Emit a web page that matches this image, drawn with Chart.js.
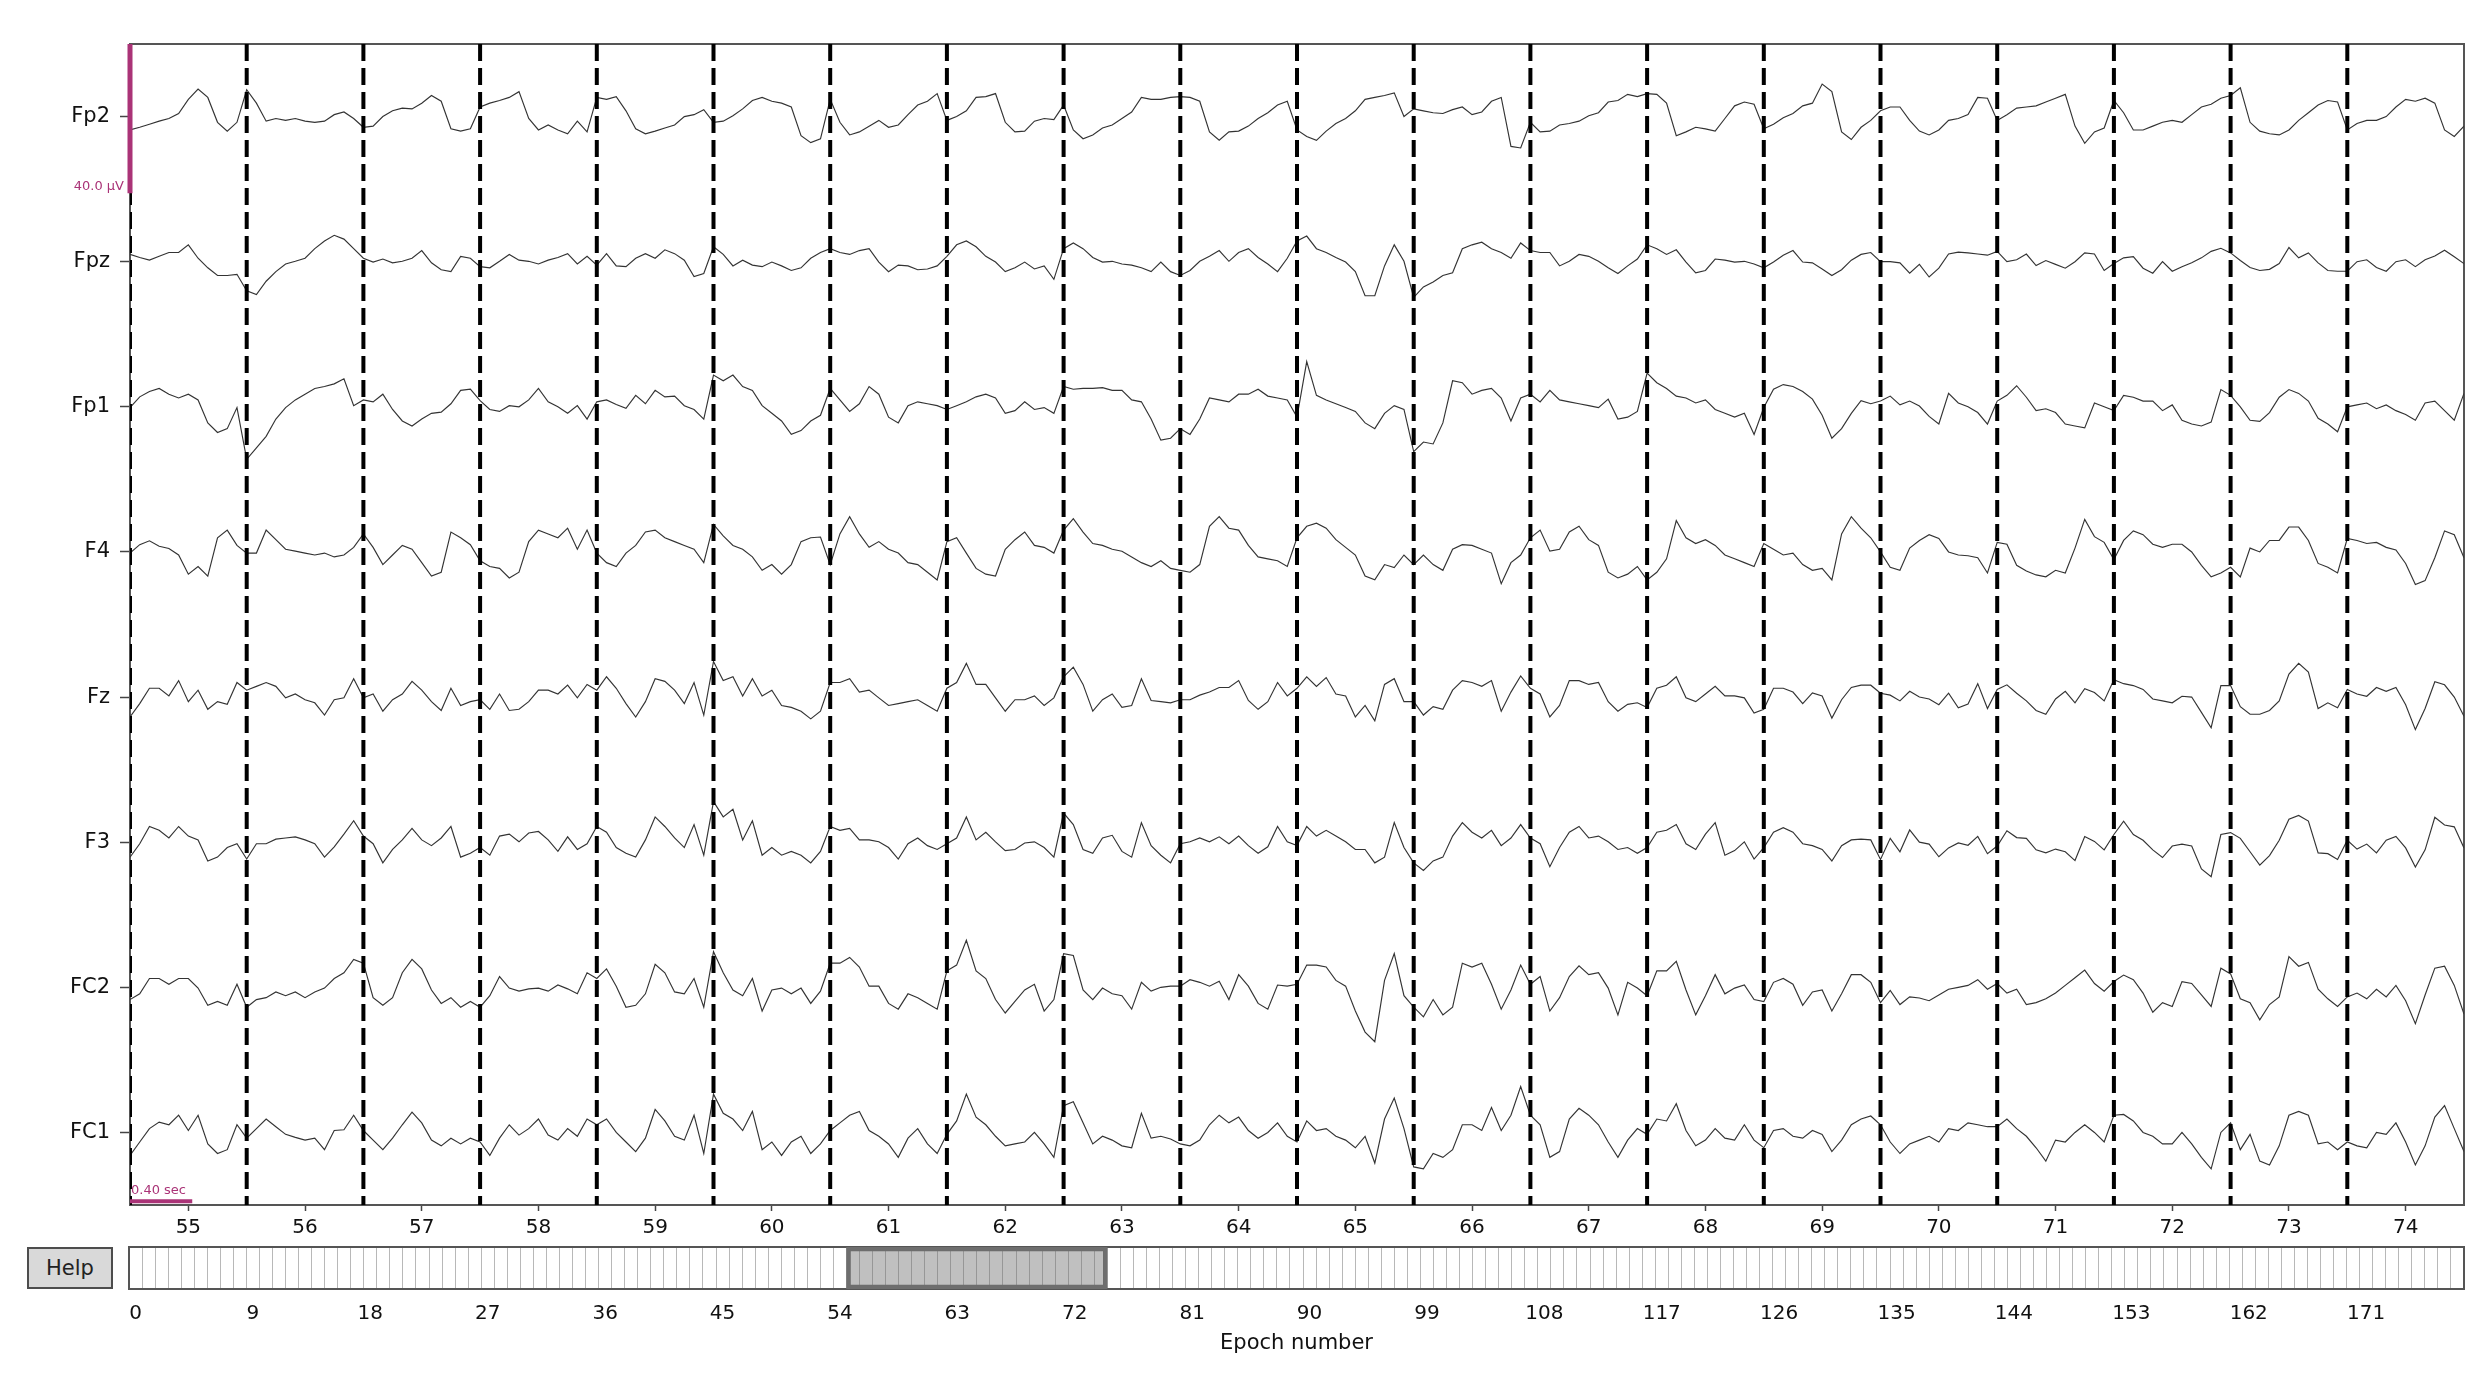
<!DOCTYPE html>
<html>
<head>
<meta charset="utf-8">
<title>Epochs</title>
<script src="https://cdn.jsdelivr.net/npm/chart.js@4.4.1/dist/chart.umd.min.js"></script>
<style>
  html, body { margin: 0; padding: 0; background: #fff; }
  body { width: 2491px; height: 1384px; position: relative; overflow: hidden; font-family: 'DejaVu Sans', sans-serif; }
  #main { position: absolute; left: 0; top: 0; width: 2491px; height: 1250px; }
  #scroll { position: absolute; left: 0; top: 1230px; width: 2491px; height: 154px; }
  #help { position: absolute; left: 27px; top: 1247px; width: 86px; height: 42px; box-sizing: border-box;
          background: #d9d9d9; border: 2px solid #4d4d4d; font-size: 21px; color: #222;
          display: flex; align-items: center; justify-content: center; }
</style>
</head>
<body>
<canvas id="main" width="2491" height="1250"></canvas>
<canvas id="scroll" width="2491" height="154"></canvas>
<div id="help">Help</div>
<script>
// channels, top to bottom
const channelNames = ['Fp2', 'Fpz', 'Fp1', 'F4', 'Fz', 'F3', 'FC2', 'FC1'];
// epochs shown in the window
const epochLabels = ['55', '56', '57', '58', '59', '60', '61', '62', '63', '64',
                     '65', '66', '67', '68', '69', '70', '71', '72', '73', '74'];
// scrollbar
const nEpochs = 179;
const scrollTicks = [0, 9, 18, 27, 36, 45, 54, 63, 72, 81, 90, 99, 108, 117, 126, 135, 144, 153, 162, 171];
const windowFirst = 55;
const windowLast = 74;

const samplesPerEpoch = 12;
const channelSpacing = 37.9; // µV between channel baselines
const scaleBarUv = 40;
const scaleBarSec = 0.4;
const epochSec = 0.75;

// traces in µV, 12 samples per epoch (+ last sample)
const fp2 = [
  -3.5, -2.8, -2, -1.2, -0.5, 0.8, 4.5, 7.2, 5, -1.5, -3.8, -1.5,
  7, 3.5, -1.2, -0.5, -1, -0.5, -1.2, -1.5, -1.2, 0.5, 1.2, -0.5,
  -2.8, -2.5, 0, 1.5, 2.2, 2, 3.5, 5.5, 4, -3.2, -3.8, -3.2,
  2.5, 3.5, 4.2, 5, 6.5, -0.5, -3.5, -2.2, -3.5, -4.5, -1.2, -4,
  5, 4.5, 5.2, 1.5, -3.2, -4.5, -3.8, -3, -2.2, 0, 0.5, 1.8,
  -1.5, -1.2, 0.2, 2, 4.2, 5, 4, 3.5, 2.5, -5, -6.8, -5.8,
  4.5, -1.5, -4.8, -4, -2.5, -1, -2.8, -2.2, 0.5, 3, 4, 6,
  -1, 0, 1.5, 5, 5.2, 6, -1.5, -4, -3.8, -1.2, -0.5, -0.8,
  3, -3.5, -5.8, -4.8, -3, -2.2, -0.5, 1.2, 5, 4.5, 4.5, 5,
  5.2, 5, 4, -4, -6.2, -4, -3.8, -2.5, -0.5, 1, 3, 4,
  -3.5, -5.2, -6.2, -3.8, -1.8, -0.5, 1.5, 4.5, 5, 5.5, 6.2, 0,
  2, 1.5, 1, 0.8, 1.8, 2.5, 0.5, 1.2, 4, 5, -7.8, -8.2,
  -1.5, -4, -3.8, -2.2, -1.8, -1.2, 0.2, 1, 3.8, 4.2, 5.8, 5.2,
  6, 5.8, 3.5, -5, -4, -2.8, -3.2, -3.8, -0.5, 2.8, 3.8, 3.2,
  -3.2, -2, -0.3, 0.8, 2.8, 3.5, 8.5, 6.5, -4, -6, -2.8, -1,
  1.5, 2.5, 2.5, -1, -3.8, -4.8, -3.5, -1, -0.5, 0.5, 5, 4.8,
  -1, 0.5, 2.2, 2.5, 2.8, 3.8, 4.8, 5.8, -2.5, -7, -4, -3,
  4.2, 1, -3.5, -3.5, -2.5, -1.5, -1, -1.5, 0.5, 2.5, 3.2, 4.8,
  5.5, 7.5, -1.5, -3.8, -4.5, -4.8, -3.5, -1, 1, 3, 4.2, 3.8,
  -3.5, -1.8, -1, -1, 0, 2.5, 4.5, 4, 4.8, 3.5, -3.5, -5.2,
  -2.5
];
const fpz = [
  1.9, 1.1, 0.4, 1.4, 2.4, 2.4, 4.4, 0.9, -1.6, -3.6, -3.6, -3.3,
  -7.6, -8.6, -5.1, -2.6, -0.6, 0.1, 0.9, 3.4, 5.4, 6.9, 5.9, 3.4,
  0.9, -0.1, 0.7, -0.3, 0.1, 0.9, 2.9, -0.3, -2.1, -2.6, 1.4, 0.9,
  -1.3, -1.6, 0.1, 1.9, 0.4, 0.1, -0.6, 0.4, 1.1, 2.1, -0.6, 1.4,
  -0.9, 2.1, -1.1, -1.3, 0.9, 2.1, 0.9, 3.1, 2.1, 0.4, -3.9, -3.1,
  3.9, 1.9, -1.1, 0.4, -0.9, -1.3, -0.1, -1.1, -2.3, -1.6, 0.9, 2.4,
  3.4, 2.4, 1.9, 2.9, 3.4, -0.1, -2.6, -0.9, -1.1, -2.1, -1.9, -1.1,
  1.4, 4.4, 5.4, 3.9, 1.4, -0.1, -2.6, -1.6, -0.1, -1.9, -1.1, -4.6,
  3.4, 4.9, 3.4, 1.1, -0.1, 0.1, -0.6, -0.9, -1.6, -2.6, -0.1, -2.6,
  -3.6, -2.3, 0.1, 1.4, 2.9, 0.1, 2.4, 3.4, 1.1, -0.6, -2.6, 0.9,
  5.4, 6.7, 3.4, 2.4, 1.1, -0.1, -2.6, -8.9, -8.9, -1.1, 4.4, 0.1,
  -9.3, -6.6, -5.3, -3.6, -2.9, 3.4, 4.4, 5.1, 3.4, 2.4, 0.9, 4.9,
  2.9, 2.4, 2.4, -1.1, 0.1, 1.9, 1.4, 0.1, -1.6, -3.1, -1.1, 0.7,
  4.4, 3.4, 1.9, 3.1, -0.1, -2.9, -2.3, 0.7, 0.4, -0.1, 0.1, -0.6,
  -1.6, -0.1, 1.7, 2.9, -0.1, -0.3, -1.9, -3.6, -2.1, 0.4, 1.9, 2.4,
  0, 0, -0.3, -3, -0.7, -4, -1.7, 2, 2.5, 2.3, 2, 1.7,
  2.7, 0, 0.5, 2, -1, 0.3, -0.7, -1.7, 0, 2.3, 2, -2.3,
  -0.5, 1, 1.3, -1.7, -3, 0, -2.5, -1.3, -0.3, 1, 2.7, 3.5,
  2.3, 0.3, -1.5, -2.3, -2, -0.5, 3.7, 1, 2.3, -0.3, -2.3, -2.5,
  -2.5, 0, 0.5, -1.5, -2.5, 0, 0.5, -1.3, 0.5, 1.5, 3, 1.3,
  -0.5
];
const fp1 = [
  -0.2, 2.6, 4, 4.8, 3.3, 2.3, 3.3, 1.8, -4.2, -6.7, -5.7, -0.2,
  -13.7, -10.7, -7.7, -3.2, -0.2, 1.8, 3.3, 4.8, 5.3, 6, 7.3, 0.3,
  1.8, 1.3, 3.3, -0.7, -3.7, -5, -3.2, -1.7, -1.4, 0.8, 4.3, 4.6,
  1.6, -0.7, -1.2, 0.3, 0, 1.8, 4.8, 1.3, 0, -1.7, 0.3, -3.2,
  1.3, 1.8, 0.6, -0.4, 3, 0.8, 4.3, 2.6, 2.8, 0.3, -0.7, -3.2,
  8.3, 6.8, 8.3, 5.3, 4.3, 0.3, -1.7, -3.7, -7.2, -6.2, -3.7, -2.2,
  4.8, 1.8, -1.2, 0.8, 5.3, 3.3, -2.7, -4.2, 0.3, 1.3, 0.8, 0.3,
  -0.7, 0.3, 1.3, 2.6, 3.3, 2.3, -1.7, -1, 1.3, -0.7, -0.2, -1.7,
  5.3, 4.6, 4.8, 4.8, 5, 4.3, 4.3, 1.8, 1.3, -3.2, -8.7, -8.2,
  -5.7, -7.2, -3.2, 2.3, 1.8, 1.3, 3.3, 3.3, 4.6, 2.8, 2.3, 1.8,
  -2.7, 11.8, 3, 1.8, 0.8, -0.2, -1.2, -4.2, -5.7, -1.7, 0.3, -0.7,
  -11.7, -9.2, -9.7, -4.2, 6.8, 6.3, 3.3, 4.3, 4.8, 2.3, -3.7, 2.3,
  3.3, 1.3, 4.3, 1.8, 1.3, 0.8, 0.3, -0.2, 2, -3.2, -2.7, -1.2,
  8.8, 6.3, 4.8, 2.8, 2.3, 1, 1.8, -0.7, -1.7, -2.7, -1.7, -7.2,
  -0.2, 4.6, 5.8, 5.3, 4, 2, -2.2, -8.2, -5.7, -1.7, 1.6, 0.8,
  1.5, 2.8, 0.5, 1.5, 0.2, -2.5, -4.5, 3.5, 1, 0, -1.5, -4.5,
  1.5, 3, 5.5, 2.5, -1, -0.5, -1.5, -4.5, -5, -5.5, 1, 0,
  -1, 3, 2.5, 1.5, 1.5, -1, 0.5, -3.5, -4.5, -5, -4, 4.5,
  3, 0, -3.5, -3.8, -1.5, 2.5, 4.5, 3.5, 1.5, -3, -4.5, -6.5,
  0, 0.5, 1, -0.5, 0.5, -1, -2, -3.5, 1, 1.5, -1, -3.5,
  3.5
];
const f4 = [
  -0.3, 1.9, 2.9, 1.5, 0.9, -0.8, -5.8, -3.8, -6.3, 3.7, 5.7, 1.7,
  -0.3, -0.3, 5.7, 3.2, 0.7, 0.2, -0.3, -0.8, -0.3, -1.3, -0.8, 1.2,
  4.7, 1.2, -3.3, -0.8, 1.7, 0.7, -2.8, -6.3, -5.3, 5.2, 3.7, 1.9,
  -2.3, -3.8, -4.3, -6.8, -5.3, 2.7, 5.7, 4.7, 3.7, 6.2, 0.7, 5.7,
  -0.3, -2.8, -3.8, -0.3, 1.7, 5.2, 5.7, 3.7, 2.7, 1.7, 0.7, -2.8,
  7.2, 4.2, 1.7, 0.7, -1.3, -4.8, -3.3, -5.8, -3.3, 2.7, 3.7, 3.9,
  -3.3, 4.7, 9.2, 4.7, 1.2, 2.7, 0.7, -0.3, -2.8, -3.3, -5.3, -7.3,
  2.7, 3.7, -0.3, -4.3, -5.8, -6.3, 0.7, 3.2, 5.2, 1.7, 1.2, -0.3,
  5.7, 8.7, 5.2, 2.2, 1.7, 0.7, 0.2, -1.3, -2.8, -3.8, -2.3, -4.3,
  -4.8, -5.3, -3.3, 6.7, 9.2, 6.2, 5.7, 1.7, -1.3, -1.8, -2.3, -3.8,
  3.7, 6.7, 7.5, 6.2, 3.2, 1.2, -0.8, -6.3, -7.3, -3.3, -4.1, -0.8,
  -3.3, -0.8, -3.3, -4.8, 0.7, 1.9, 1.7, 0.7, -0.3, -8.3, -2.8, -0.8,
  3.7, 5.7, 0.2, 0.7, 5.2, 6.7, 3.2, 1.7, -5.3, -6.8, -5.8, -3.8,
  -7.3, -5.3, -1.8, 8.2, 3.7, 2.2, 3.2, 1.7, -0.8, -1.8, -2.8, -3.8,
  2.2, 0.7, -0.8, -0.3, -3.3, -4.8, -4.3, -7.3, 4.7, 9.2, 6.2, 3.7,
  0, -4, -4.8, 1, 3, 4.5, 3.5, 0, -0.8, -1, -1.5, -5.5,
  2.5, 2, -3.5, -5, -6, -6.5, -4.8, -5.5, 1, 8.5, 4, 2.5,
  -2, 3, 5.5, 4.5, 2, 1.2, 2, 2, 0, -3.5, -6.5, -5.5,
  -4, -6.5, 1, 0, 3, 3, 6.5, 6.5, 3, -3, -4, -5.5,
  3.5, 3, 2.2, 2.5, 1.2, 0.5, -3, -8.5, -7.5, -1.5, 5.5, 4.5,
  -1.5
];
const fz = [
  -5.2, -1.7, 2.3, 2.3, 0.3, 4.3, -1.2, 1.8, -3.2, -1.2, -1.9, 3.8,
  1.8, 2.8, 3.8, 2.8, -0.2, 0.8, -0.7, -1.5, -4.7, -0.7, -0.2, 4.8,
  -0.2, 0.8, -3.7, -0.7, 0.8, 4.1, 1.8, -1.2, -3.5, 2.3, -2.2, -1.2,
  -0.7, -3.2, 0.8, -3.5, -3.2, -1.2, 1.8, 1.8, 0.8, 3.1, -0.2, 3.3,
  1.8, 5.3, 2.3, -1.7, -5.2, -1.2, 4.8, 4.1, 1.8, -1.7, 3.8, -4.7,
  9.3, 4.3, 5.3, 0.3, 4.8, 0.3, 1.8, -2.2, -2.7, -3.7, -5.7, -3.7,
  3.8, 3.8, 4.8, 1.3, 1.8, -0.2, -2.2, -1.7, -1.2, -0.7, -2.2, -3.7,
  2.3, 3.8, 8.8, 3.3, 3.3, -0.2, -3.7, -0.7, -0.7, 0.3, -2.2, -0.2,
  5.3, 7.8, 3.3, -3.7, -0.7, 0.8, -2.7, -2.2, 4.8, -0.9, -1.2, -1.5,
  -0.7, -0.7, 0.5, 1.3, 2.5, 2.5, 4.3, -0.9, -3.2, -1.2, 3.8, 0.3,
  2.3, 5.3, 2.8, 5.1, 0.8, 0.3, -5.2, -2.2, -6.2, 3.3, 4.8, -1.2,
  -1.2, -4.7, -2.5, -3.2, 1.8, 4.3, 3.8, 2.8, 4.3, -3.7, 1.3, 5.5,
  2.3, 0.8, -5.2, -2.2, 4.3, 4.3, 3.3, 3.8, -1.2, -3.7, -1.9, -1.5,
  -2.7, 2.3, 3.1, 5.3, -0.2, -1.2, 0.8, 2.8, 0.3, 0.3, -0.2, -4.2,
  -3.2, 2.3, 2.3, 1.3, -1.7, 1.1, 0.3, -5.5, -0.7, 2.5, 3.1, 3.1,
  1, 0.5, -1, 1.5, 0, -0.5, -2, 1, -2.8, -1.8, 3.5, -3,
  2, 3.2, 1, -1, -3.5, -4.5, -0.5, 1.5, -1.5, 2.2, 1.2, -1,
  4.5, 3.5, 3, 2, -0.5, -1, -1.5, 0.2, 0, -4, -8, 3,
  3, -2.5, -4.5, -4.5, -3.5, -1, 6, 8.8, 6.5, -3, -1.5, -2.8,
  2, 0.8, 0.2, 2.5, 1.5, 2.5, -2, -8.5, -3, 4, 3.2, 0,
  -5
];
const f3 = [
  -3.9, -0.4, 4.1, 3.1, 1.1, 4.1, 1.6, 0.6, -4.9, -3.9, -1.4, -0.4,
  -4.4, -0.4, -0.4, 0.8, 1.1, 1.4, 0.6, -0.4, -3.9, -1.2, 2.1, 5.6,
  1.6, -0.4, -5.4, -1.9, 0.6, 3.6, 0.6, -0.9, 1.1, 4.1, -3.9, -2.9,
  -1.4, -3.4, 1.6, 2.1, 0.1, 2.4, 2.8, 0.6, -2.4, 1.4, -1.9, -0.4,
  4.1, 2.6, -1.4, -2.9, -3.9, 0.6, 6.6, 4.1, 1.1, -1.4, 4.6, -3.4,
  10.6, 6.6, 8.6, 0.6, 5.6, -3.4, -1.4, -3.4, -2.4, -3.4, -5.4, -2.4,
  4.1, 3.1, 3.6, 0.6, 0.6, 0.1, -1.4, -4.4, -0.4, 1.1, -0.9, -1.9,
  -0.4, 1.1, 6.6, 0.6, 2.6, 0.1, -2.2, -1.9, -0.2, 0.1, -1.4, -3.9,
  7.6, 4.6, -1.9, -2.9, 1.1, 1.8, -2.4, -3.9, 5.1, -0.9, -3.4, -5.4,
  -0.4, 0.1, 1.1, 0.1, 1.4, -0.4, 1.6, -0.9, -2.9, -1.2, 4.1, 0.1,
  -0.9, 4.1, 1.6, 3.1, 1.6, 0.1, -1.9, -1.9, -5.4, -3.9, 5.1, -1.4,
  -5.4, -7.4, -4.9, -3.9, 1.6, 5.1, 2.6, 1.1, 3.1, -0.9, 1.1, 4.6,
  1.1, -0.4, -6.4, -1.4, 2.6, 4.1, 1.1, 1.6, 0.1, -1.9, -1.4, -2.9,
  -1.4, 2.6, 3.1, 4.6, -0.4, -1.9, 2.1, 5.1, -3.4, -2.2, 0.1, -4.4,
  -1.4, 2.6, 3.8, 2.6, -0.4, -0.9, -1.9, -4.9, -0.9, 0.6, 0.8, 0.6,
  -4.5, 1, -2.5, 3.2, 0, -0.5, -3.8, -1.5, -0.2, -0.8, 1.5, -3,
  -1, 3, 1.2, 1, -2, -2.8, -1.8, -2.5, -4.8, 1.5, 0.2, -2,
  2, 5.5, 2, 0.5, -2, -4, -1, -0.5, -1, -7, -9, 2,
  2.5, 1, -2.5, -6, -3.5, 0.5, 6, 7, 5.5, -2.8, -3, -4.5,
  0.5, -1.8, -0.5, -2.8, 0.5, 1.5, -1.5, -6.5, -2, 6.5, 4.5, 4,
  -1.5
];
const fc2 = [
  -3.2, -1.7, 2.3, 2.3, 0.8, 2.3, 2.3, -0.2, -4.7, -3.7, -4.7, 0.8,
  -5.2, -3.2, -2.7, -1.2, -2.2, -1.2, -2.7, -1.2, -0.2, 2.3, 3.8, 7.3,
  6.3, -2.7, -4.7, -2.7, 3.8, 7.3, 4.8, -0.7, -4.2, -2.7, -5.2, -3.7,
  -5.2, -2.2, 2.8, -0.2, -1, -0.4, -0.2, -1, 0.6, -0.4, -1.7, 3.8,
  2.3, 4.8, 0.3, -5.2, -4.7, -1.7, 6, 3.8, -1.2, -1.7, 2.3, -5.2,
  9.3, 3.8, -0.7, -2.2, 2.3, -6.2, -0.7, -0.2, -1.7, -0.2, -4.2, -1,
  6.3, 6.3, 7.8, 5.3, 0.3, 0.3, -4.2, -5.7, -1.7, -2.7, -4.2, -5.7,
  4.3, 5.8, 12.3, 4.3, 2.3, -3.2, -6.7, -3.7, -0.7, 0.8, -6.2, -3.2,
  8.8, 8.3, -0.7, -3.2, -0.2, -1.7, -2.2, -5.7, 1.3, -1, 0, 0.3,
  0.3, 2, 1.3, 0.3, 1.6, -3.2, 3.3, 0.3, -4.2, -5.7, 0.6, 0.3,
  0.8, 5.8, 5.8, 5.3, 1.8, 0.3, -6.2, -11.7, -14.2, 1.8, 8.8, -2.2,
  -5.2, -7.7, -3.2, -7.2, -5.2, 6.3, 5.3, 6.3, 0.8, -5.7, -0.7, 5.8,
  0.8, 2.8, -6.2, -2.7, 2.8, 5.6, 3.3, 3.8, -0.2, -7.2, 1.3, -0.2,
  -2.2, 4.3, 4.3, 6.8, -0.7, -7.2, -2.2, 3.3, -1.7, -0.2, 0.6, -3.2,
  -3.7, 1.3, 2.3, 0.8, -4.7, -1.2, -0.7, -6.2, -1.7, 3.3, 3.3, 1.3,
  -4, -0.8, -4.5, -2.5, -2.8, -3.5, -2, -0.5, 0, 0.5, 2, -0.5,
  1, -1.5, -0.5, -4.5, -4, -3, -1.5, 0.5, 2.5, 4.5, 1, -1,
  1.5, 3.2, 2, -1.5, -6.5, -4, -5, 1.5, 1, -2, -5, 5,
  3.5, -3, -4, -8.5, -4.5, -2.5, 8, 5.5, 6.5, -0.5, -3, -5,
  -2.5, -1.5, -3, -0.5, -2.5, 0.5, -3.5, -9.5, -2, 5, 5.5, 0.5,
  -7
];
const fc1 = [
  -6, -2.5, 1, 2.7, 2, 4.5, 0.5, 4.5, -3, -5.5, -4.5, 2,
  -1.5, 1, 3.5, 1.5, -0.5, -1.3, -2, -1.5, -4.5, 0.5, 0.7, 4.5,
  0.5, -2, -4.5, -1.5, 2, 5.3, 2.5, -2, -3.5, -1.5, -3, -1.5,
  -2.5, -6, -1.5, 2, -0.7, 1, 3.5, -0.7, -2, 1, -1, 3.5,
  2, 3.5, 0, -2.5, -5, -1.5, 6, 3, -1, -2, 4.5, -5.5,
  10, 5, 3.5, 0.5, 5.5, -4.5, -2.5, -6, -2.5, -1, -5.5, -3,
  0.5, 2.5, 4.5, 5.5, 0.5, -1, -3, -6.5, -1.5, 1, -3, -5.5,
  -0.5, 3, 10, 4, 2, -1, -3.5, -3, -2.5, 0, -3, -6.5,
  7, 8, 2.5, -3, -1, -2, -3.5, -4, 5, -1.5, -1, -1.7,
  -3, -3.5, -2, 2, 4.5, 2.5, 4, 0.5, -1.5, 0, 2.5, -1,
  -2.5, 3, 0.5, 1, -1, -2, -4, -1, -8, 3.5, 9, 1,
  -9, -9.5, -5.5, -6.5, -4.5, 2, 2, 0.5, 6.5, 0.5, 4.5, 12,
  4.5, 2, -6.5, -5, 3.5, 6.3, 4.5, 2, -2.5, -6.5, -2, 1,
  -0.5, 3.5, 3, 7.5, 0.5, -3.5, -2, 1, -1.5, -2, 2, -2,
  -4, 0.5, 1, -1, -1.5, 0.5, -0.5, -5, -2, 2, 3.5, 4.3,
  2, -2.5, -5.5, -3, -2, -1, -2.5, 1, 0.5, 2.5, 2, 1.5,
  1.5, 3.5, 1, -1, -4, -7.5, -2, -2.5, 0, 2, 0, -2.5,
  4.5, 4.7, 3, 0, -1, -3, -3, 0, -3, -6.5, -9.5, 0,
  2.5, -4.5, -0.5, -7.5, -8.5, -3.5, 4.5, 5.5, 4.5, -3, -2.5, -4.5,
  -2.5, -3.5, -4, 0, -0.5, 2.5, -2.5, -8.5, -3.5, 4, 7, 1,
  -5
];

const traces = [fp2, fpz, fp1, f4, fz, f3, fc2, fc1];
const nShown = epochLabels.length;
const yMax = channelSpacing / 2;
const yMin = -(channelNames.length - 0.5) * channelSpacing;
const scaleColor = '#AA3377';

Chart.defaults.font.family = "'DejaVu Sans', sans-serif";
Chart.defaults.color = '#111';

// Main window
const datasets = [];

// dashed epoch boundaries
for (let k = 0; k < nShown; k++) {
  datasets.push({
    data: [{ x: k, y: yMax }, { x: k, y: yMin }],
    borderColor: '#000',
    borderWidth: 4,
    borderDash: [17, 7],
    order: 1
  });
}

// eeg traces
traces.forEach((vals, ch) => {
  datasets.push({
    data: vals.map((v, n) => ({ x: n / samplesPerEpoch, y: v - ch * channelSpacing })),
    borderColor: '#333',
    borderWidth: 1.15,
    order: 2
  });
});

// scale bars
datasets.push({
  data: [{ x: 0, y: scaleBarUv / 2 }, { x: 0, y: -scaleBarUv / 2 }],
  borderColor: scaleColor,
  borderWidth: 5,
  clip: { left: 6, top: 0, right: 0, bottom: 0 },
  order: 0
});
datasets.push({
  data: [{ x: 0, y: yMin + 1 }, { x: scaleBarSec / epochSec, y: yMin + 1 }],
  borderColor: scaleColor,
  borderWidth: 4,
  clip: { left: 6, top: 0, right: 0, bottom: 0 },
  order: 0
});

const scaleText = {
  id: 'scaleText',
  afterDatasetsDraw(chart) {
    const { ctx, scales: { x, y } } = chart;
    ctx.save();
    ctx.fillStyle = scaleColor;
    ctx.font = "13px 'DejaVu Sans'";
    ctx.textBaseline = 'alphabetic';
    ctx.textAlign = 'right';
    ctx.fillText(scaleBarUv.toFixed(1) + ' µV', x.getPixelForValue(0) - 6, y.getPixelForValue(-scaleBarUv / 2) - 3);
    ctx.textAlign = 'left';
    ctx.fillText(scaleBarSec.toFixed(2) + ' sec', x.getPixelForValue(0) + 1, y.getPixelForValue(yMin + 1) - 7);
    ctx.restore();
  }
};

new Chart(document.getElementById('main'), {
  type: 'scatter',
  data: { datasets },
  options: {
    responsive: false,
    animation: false,
    devicePixelRatio: 1,
    events: [],
    elements: { point: { radius: 0 }, line: { tension: 0 } },
    datasets: { scatter: { showLine: true, pointRadius: 0 } },
    layout: { padding: { left: 0, top: 44, right: 27, bottom: 0 } },
    plugins: { legend: { display: false }, tooltip: { enabled: false } },
    scales: {
      x: {
        type: 'linear', position: 'bottom', min: 0, max: nShown,
        afterBuildTicks: s => { s.ticks = epochLabels.map((_, i) => ({ value: i + 0.5 })); },
        afterFit: s => { s.height = 45; },
        ticks: { callback: (v, i) => epochLabels[i], autoSkip: false, maxRotation: 0, padding: 5, font: { size: 20 } },
        grid: { drawOnChartArea: false, tickLength: 6, tickColor: '#444', tickWidth: 1.5 },
        border: { color: '#555', width: 2 }
      },
      xTop: {
        type: 'linear', position: 'top', min: 0, max: nShown,
        afterFit: s => { s.height = 0; },
        ticks: { display: false }, grid: { display: false },
        border: { color: '#555', width: 2 }
      },
      y: {
        type: 'linear', position: 'left', min: yMin, max: yMax,
        afterBuildTicks: s => { s.ticks = channelNames.map((_, i) => ({ value: -i * channelSpacing })); },
        afterFit: s => { s.width = 130; },
        ticks: { callback: (v, i) => channelNames[i], autoSkip: false, padding: 10, font: { size: 21 } },
        grid: { drawOnChartArea: false, tickLength: 10, tickColor: '#444', tickWidth: 1.5 },
        border: { color: '#555', width: 2 }
      },
      yRight: {
        type: 'linear', position: 'right', min: 0, max: 1,
        afterFit: s => { s.width = 0; },
        ticks: { display: false }, grid: { display: false },
        border: { color: '#555', width: 2 }
      }
    }
  },
  plugins: [scaleText]
});

// Scrollbar with the shown window
new Chart(document.getElementById('scroll'), {
  type: 'bar',
  data: {
    labels: ['window'],
    datasets: [{
      data: [[windowFirst - 0.5, windowLast + 0.5]],
      backgroundColor: 'rgba(105, 105, 105, 0.42)',
      borderColor: '#6e6e6e',
      borderWidth: 4,
      borderSkipped: false,
      barPercentage: 1,
      categoryPercentage: 1
    }]
  },
  options: {
    indexAxis: 'y',
    responsive: false,
    animation: false,
    devicePixelRatio: 1,
    events: [],
    layout: { padding: { left: 129, top: 17, right: 27, bottom: 0 } },
    plugins: { legend: { display: false }, tooltip: { enabled: false } },
    scales: {
      x: {
        type: 'linear', position: 'bottom', min: -0.5, max: nEpochs - 0.5, weight: 0,
        afterBuildTicks: s => {
          const t = [];
          for (let k = 0; k <= nEpochs; k++) t.push({ value: k - 0.5 });
          s.ticks = t;
        },
        afterFit: s => { s.height = 0; },
        ticks: { display: false, autoSkip: false },
        grid: { color: '#b8b8b8', lineWidth: 1, drawTicks: false },
        border: { color: '#555', width: 2 }
      },
      xl: {
        type: 'linear', position: 'bottom', min: -0.5, max: nEpochs - 0.5, weight: 1,
        afterBuildTicks: s => { s.ticks = scrollTicks.map(v => ({ value: v })); },
        afterFit: s => { s.height = 95; },
        ticks: { callback: v => String(v), autoSkip: false, maxRotation: 0, padding: 5, font: { size: 20 } },
        grid: { display: false },
        border: { display: false },
        title: { display: true, text: 'Epoch number', font: { size: 21 }, padding: { top: 0, bottom: 28 } }
      },
      xTop: {
        type: 'linear', position: 'top', min: 0, max: 1,
        afterFit: s => { s.height = 0; },
        ticks: { display: false }, grid: { display: false },
        border: { color: '#555', width: 2 }
      },
      y: { display: false },
      yl: {
        type: 'linear', position: 'left', min: 0, max: 1,
        afterFit: s => { s.width = 0; },
        ticks: { display: false }, grid: { display: false },
        border: { color: '#555', width: 2 }
      },
      yr: {
        type: 'linear', position: 'right', min: 0, max: 1,
        afterFit: s => { s.width = 0; },
        ticks: { display: false }, grid: { display: false },
        border: { color: '#555', width: 2 }
      }
    }
  }
});
</script>
</body>
</html>
